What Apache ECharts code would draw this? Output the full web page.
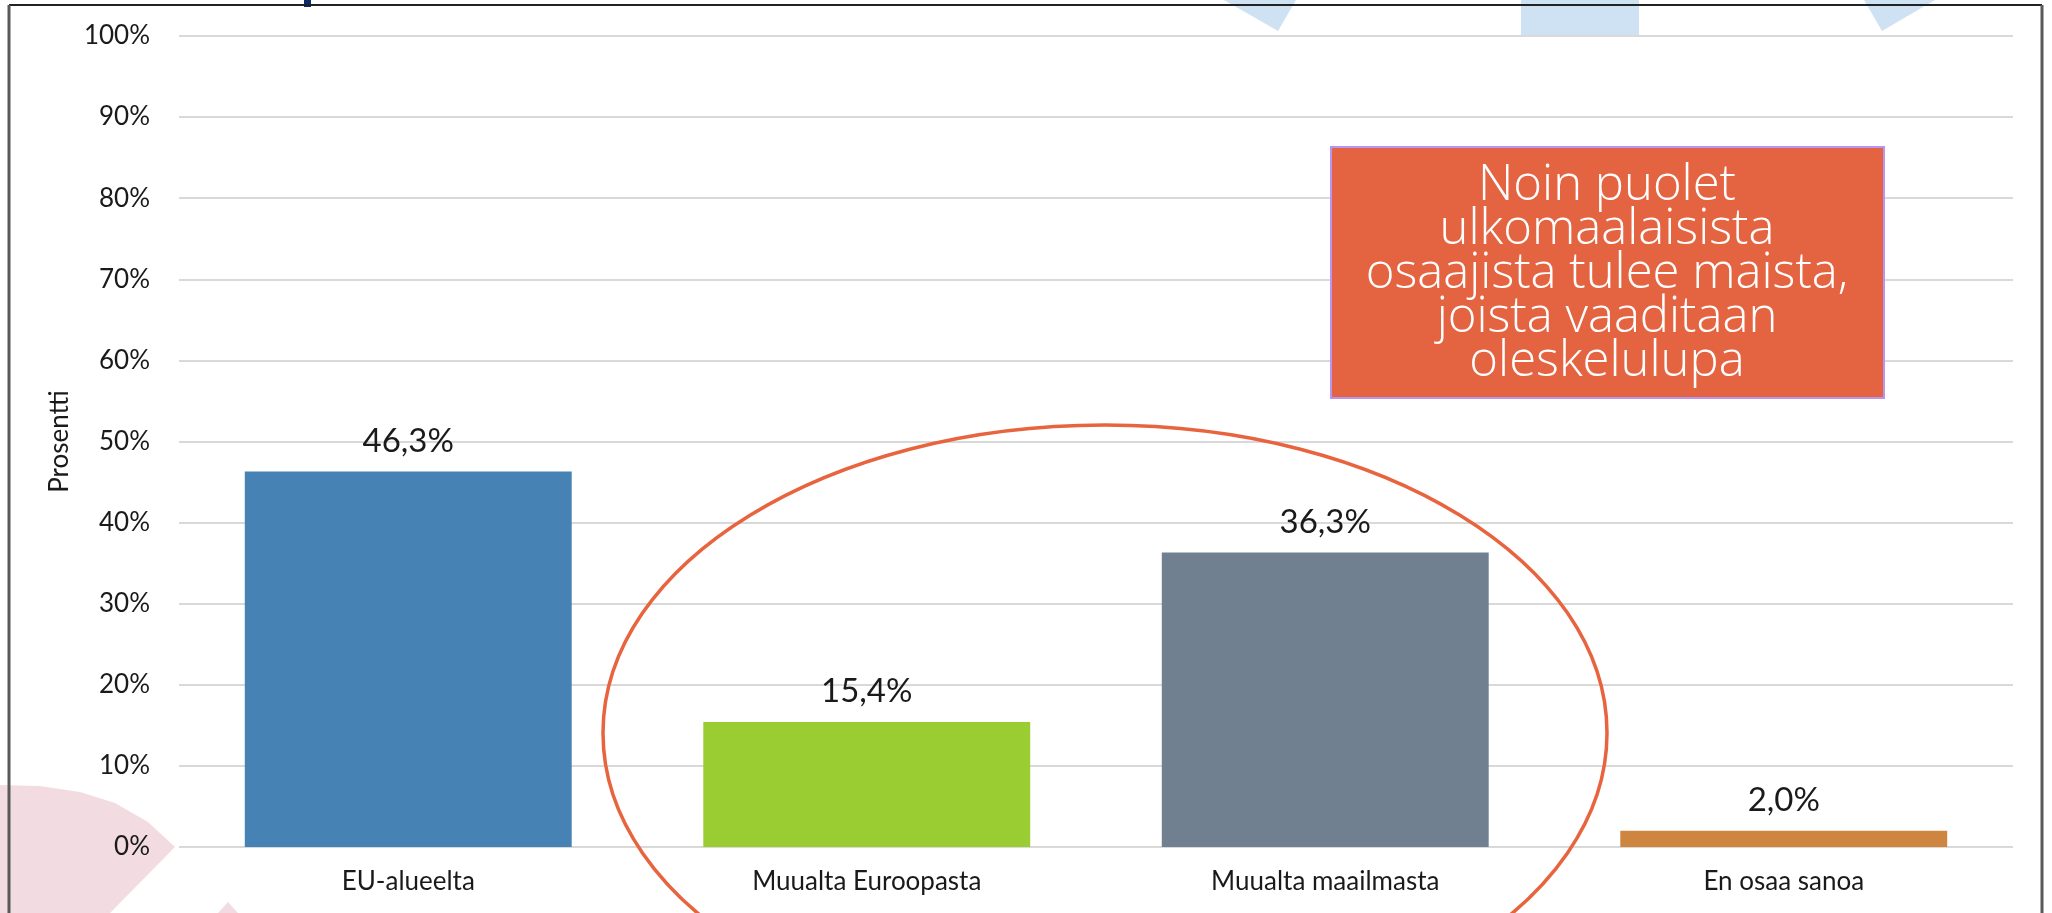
<!DOCTYPE html>
<html>
<head>
<meta charset="utf-8">
<script src="https://cdn.jsdelivr.net/npm/echarts@6/dist/echarts.min.js"></script>
<style>
    html, body { margin: 0; padding: 0; background: #fff; }
    #chart { width: 2052px; height: 913px; }
</style>
</head>
<body>
<div id="chart"></div>
<script>
// Data
var categories = ['EU-alueelta', 'Muualta Euroopasta', 'Muualta maailmasta', 'En osaa sanoa'];
var values = [46.3, 15.4, 36.3, 2.0];
var barColors = ['#4682B4', '#9ACD32', '#708090', '#CD853F'];
var yAxisName = 'Prosentti';
var noteLines = ['Noin puolet', 'ulkomaalaisista', 'osaajista tulee maista,', 'joista vaaditaan', 'oleskelulupa'];

var labelFont = 'Lato, "Open Sans", sans-serif';

// 46.3 -> "46,3%"
function formatPercent(value) {
    return value.toFixed(1).replace('.', ',') + '%';
}

var chartDom = document.getElementById('chart');
var myChart = echarts.init(chartDom);

var option = {
    backgroundColor: '#fff',
    animation: false,
    grid: { left: 179, right: 39, top: 36, bottom: 66, containLabel: false },
    xAxis: {
        type: 'category',
        data: categories,
        axisLine: { show: false },
        axisTick: { show: false },
        axisLabel: {
            margin: 22,
            color: '#1a1a1a',
            fontFamily: labelFont,
            fontSize: 26
        }
    },
    yAxis: {
        type: 'value',
        min: 0,
        max: 100,
        interval: 10,
        name: yAxisName,
        nameLocation: 'middle',
        nameGap: 106,
        nameTextStyle: { color: '#1a1a1a', fontFamily: labelFont, fontSize: 26 },
        axisLine: { show: false },
        axisTick: { show: false },
        axisLabel: {
            margin: 29,
            color: '#1a1a1a',
            fontFamily: labelFont,
            fontSize: 26,
            formatter: '{value}%'
        },
        splitLine: { lineStyle: { color: '#d9d9d9', width: 2 } }
    },
    series: [{
        type: 'bar',
        barCategoryGap: '28.7%',
        data: values.map(function (v, i) {
            return { value: v, itemStyle: { color: barColors[i] } };
        }),
        label: {
            show: true,
            position: 'top',
            distance: 14,
            color: '#1a1a1a',
            fontFamily: labelFont,
            fontSize: 33,
            formatter: function (p) { return formatPercent(p.value); }
        }
    }],
    graphic: [
        // pink decoration bottom-left (behind chart)
        {
            type: 'polygon', z: -10, silent: true,
            shape: { points: [[0, 785], [40, 786], [80, 792], [115, 803], [148, 822], [175, 847], [110, 913], [0, 913]] },
            style: { fill: '#F2DCE2' }
        },
        {
            type: 'polygon', z: -10, silent: true,
            shape: { points: [[228, 902], [218, 913], [238, 913]] },
            style: { fill: '#F2DCE2' }
        },
        // light blue shapes at top
        {
            type: 'polygon', z: -10, silent: true,
            shape: { points: [[1224, 0], [1296, 0], [1278, 31]] },
            style: { fill: '#CFE2F3' }
        },
        {
            type: 'rect', z: -10, silent: true,
            shape: { x: 1521, y: 0, width: 118, height: 35 },
            style: { fill: '#CFE2F3' }
        },
        {
            type: 'polygon', z: -10, silent: true,
            shape: { points: [[1864, 0], [1935, 0], [1882, 31]] },
            style: { fill: '#CFE2F3' }
        },
        // piece of a title letter above the frame
        {
            type: 'rect', z: 5, silent: true,
            shape: { x: 304, y: 0, width: 7, height: 7 },
            style: { fill: '#0E2C6A' }
        },
        // frame
        {
            type: 'line', z: 10, silent: true,
            shape: { x1: 9, y1: 5, x2: 2042, y2: 5 },
            style: { stroke: '#222', lineWidth: 2 }
        },
        {
            type: 'line', z: 10, silent: true,
            shape: { x1: 9, y1: 5, x2: 9, y2: 913 },
            style: { stroke: '#595959', lineWidth: 3 }
        },
        {
            type: 'line', z: 10, silent: true,
            shape: { x1: 2042, y1: 5, x2: 2042, y2: 913 },
            style: { stroke: '#595959', lineWidth: 3 }
        },
        // ellipse around the non-EU bars
        {
            type: 'ellipse', z: 20, silent: true,
            shape: { cx: 1105, cy: 733, rx: 502, ry: 308 },
            style: { fill: 'none', stroke: '#E8643E', lineWidth: 3.5 }
        },
        // note box
        {
            type: 'rect', z: 20, silent: true,
            shape: { x: 1331, y: 147, width: 553, height: 251 },
            style: { fill: '#E46442', stroke: '#B995F2', lineWidth: 2 }
        },
        {
            type: 'text', z: 21, silent: true,
            x: 1607, y: 274,
            style: {
                text: noteLines.join('\n'),
                fill: '#fff',
                font: '300 49px "Open Sans", sans-serif',
                lineHeight: 44,
                align: 'center',
                verticalAlign: 'middle'
            }
        }
    ]
};

myChart.setOption(option);
</script>
</body>
</html>
